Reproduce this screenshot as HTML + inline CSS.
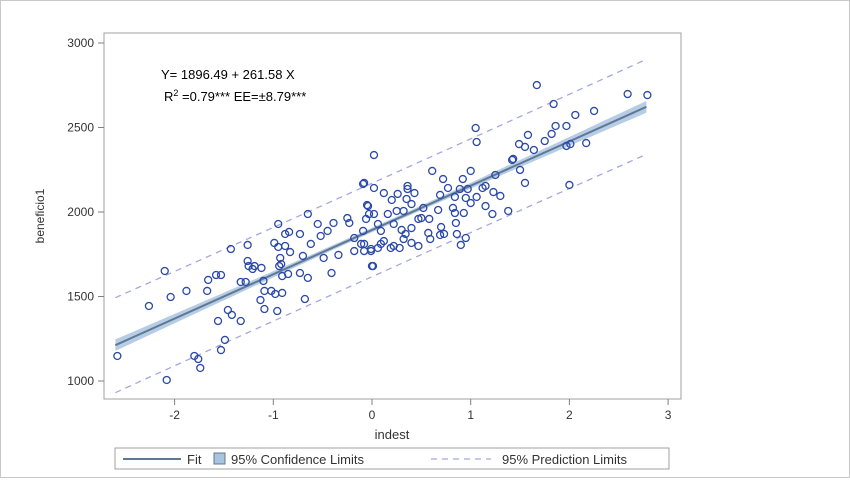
<!DOCTYPE html>
<html><head><meta charset="utf-8"><style>
body{margin:0;background:#fff;font-family:"Liberation Sans",Arial,sans-serif;}
#wrap{position:relative;width:848px;height:476px;border:1px solid #c8c8c8;}
</style></head><body>
<div id="wrap">
<svg id="chart" width="848" height="476"></svg>
</div>
<script>
const xs=[-2.58,-2.08,-2.26,-2.10,-2.04,-1.88,-1.80,-1.76,-1.74,-1.67,-1.66,-1.58,-1.53,-1.56,-1.53,-1.49,-1.46,-1.42,-1.33,-1.43,-1.33,-1.28,-1.26,-1.26,-1.25,-1.21,-1.19,-1.12,-1.10,-1.13,-1.09,-1.09,-1.02,-0.98,-0.91,-0.96,-0.99,-0.95,-0.88,-0.84,-0.95,-0.88,-0.83,-0.93,-0.92,-0.94,-0.91,-0.85,-0.73,-0.65,-0.68,-0.73,-0.65,-0.70,-0.62,-0.55,-0.52,-0.49,-0.45,-0.39,-0.34,-0.41,-0.25,-0.23,-0.18,-0.09,-0.05,0.02,0.02,0.12,0.01,-0.08,-0.01,0.06,-0.18,-0.11,
1.67,2.59,2.79,1.84,2.06,2.25,1.05,1.06,1.58,1.86,1.97,1.82,1.75,1.49,1.55,1.64,1.97,2.01,2.17,1.42,1.43,1.50,1.55,2.00,1.25,0.61,0.72,0.92,1.00,0.77,0.89,0.97,1.12,1.15,1.23,1.30,1.06,1.00,1.15,1.22,1.38,0.69,0.84,0.95,0.67,0.82,0.84,0.93,0.85,0.70,0.73,0.86,0.95,0.90,0.69,0.59,0.57,0.47,-0.08,0.20,0.26,0.36,0.36,0.35,0.43,0.40,0.52,0.50,0.58,0.47,0.32,0.25,0.16,0.22,0.30,0.34,0.32,0.40,0.40,0.22,0.28,0.19,0.12,0.09,0.06,0.02,-0.04,-0.03,-0.06,-0.09,-0.08,-0.01,0.09,0.00];
const ys=[1148,1006,1444,1651,1497,1533,1148,1130,1077,1533,1598,1627,1627,1355,1183,1243,1420,1391,1355,1781,1586,1586,1805,1710,1680,1663,1680,1669,1592,1479,1426,1533,1533,1515,1521,1414,1817,1929,1870,1882,1793,1799,1763,1728,1692,1680,1621,1633,1870,1988,1485,1639,1610,1740,1811,1929,1858,1728,1888,1935,1746,1639,1964,1935,1846,2166,2041,2142,2337,2112,1680,1769,1769,1787,1769,1811,
2751,2698,2692,2639,2574,2598,2497,2414,2456,2509,2509,2462,2420,2402,2385,2367,2391,2402,2408,2308,2314,2249,2172,2160,2219,2243,2195,2195,2243,2142,2136,2136,2142,2154,2118,2095,2089,2053,2035,1988,2006,2101,2089,2083,2012,2024,1994,1994,1935,1911,1870,1870,1846,1805,1864,1840,1876,1799,2172,2071,2107,2154,2136,2077,2112,2047,2024,1964,1959,1959,2006,2006,1988,1929,1894,1870,1840,1905,1817,1799,1787,1787,1828,1888,1929,1988,2035,1988,1959,1888,1811,1781,1811,1680];
const xTicks=[-2,-1,0,1,2,3];
const yTicks=[1000,1500,2000,2500,3000];
const xRange=[-2.6,2.78];

const NS="http://www.w3.org/2000/svg",svg=document.getElementById('chart');
const L=103,R=680,T=32,B=398;
const sx=v=>371+v*98.7, sy=v=>211-(v-2000)*84.5/500;
function mk(t,a,p){const e=document.createElementNS(NS,t);for(const k in a)e.setAttribute(k,a[k]);(p||svg).appendChild(e);return e;}
const n=xs.length;let mx=0,my=0;for(let i=0;i<n;i++){mx+=xs[i];my+=ys[i];}mx/=n;my/=n;
let sxx=0,sxy=0;for(let i=0;i<n;i++){sxx+=(xs[i]-mx)**2;sxy+=(xs[i]-mx)*(ys[i]-my);}
const b=sxy/sxx,a=my-b*mx;let sse=0;for(let i=0;i<n;i++)sse+=(ys[i]-a-b*xs[i])**2;const s=Math.sqrt(sse/(n-2));
const f=x=>a+b*x, ci=x=>0.55*1.97*s*Math.sqrt(1/n+(x-mx)**2/sxx), pi=x=>0.88*1.97*s*Math.sqrt(1+1/n+(x-mx)**2/sxx);
const grid=[];for(let k=0;k<=40;k++)grid.push(xRange[0]+(xRange[1]-xRange[0])*k/40);
const band=mk('path',{d:'M'+grid.map(x=>sx(x)+','+sy(f(x)+ci(x))).join('L')+'L'+grid.slice().reverse().map(x=>sx(x)+','+sy(f(x)-ci(x))).join('L')+'Z',fill:'#a9c4e0',opacity:'0.85'});

const up=mk('path',{d:'M'+grid.map(x=>sx(x)+','+sy(f(x)+pi(x))).join('L'),stroke:'#a4a8e0',fill:'none','stroke-width':1.3,'stroke-dasharray':'6,5'});

const lo=mk('path',{d:'M'+grid.map(x=>sx(x)+','+sy(f(x)-pi(x))).join('L'),stroke:'#a4a8e0',fill:'none','stroke-width':1.3,'stroke-dasharray':'6,5'});

const fit=mk('line',{x1:sx(xRange[0]),y1:sy(f(xRange[0])),x2:sx(xRange[1]),y2:sy(f(xRange[1])),stroke:'#5f7894','stroke-width':2});

for(let i=0;i<n;i++){const c=mk('circle',{cx:sx(xs[i]),cy:sy(ys[i]),r:3.5,fill:'none',stroke:'#2a48a8','stroke-width':1.3});
}
const frame=mk('rect',{x:L,y:T,width:R-L,height:B-T,fill:'none',stroke:'#a0a0a0'});

xTicks.forEach(v=>{const t=mk('line',{x1:sx(v),x2:sx(v),y1:B,y2:B+6,stroke:'#808080'});
const l=mk('text',{x:sx(v),y:B+20,'text-anchor':'middle','font-size':12,fill:'#333'});l.textContent=v;});
yTicks.forEach(v=>{const t=mk('line',{x1:L-6,x2:L,y1:sy(v),y2:sy(v),stroke:'#808080'});
const l=mk('text',{x:L-10,y:sy(v)+4,'text-anchor':'end','font-size':12,fill:'#333'});l.textContent=v;});
</script>
<svg width="848" height="476" style="position:absolute;left:1px;top:1px;pointer-events:none">
<text x="160" y="78" font-size="13" fill="#000">Y= 1896.49 + 261.58 X</text>
<text x="163" y="100" font-size="13" fill="#000">R<tspan font-size="9" dy="-5">2</tspan><tspan dy="5"> =0.79*** EE=±8.79***</tspan></text>
<text x="391" y="438" font-size="13" text-anchor="middle" fill="#333">indest</text>
<text x="0" y="0" font-size="12" text-anchor="middle" fill="#333" transform="translate(43,215) rotate(-90)">beneficio1</text>
<g>
<rect x="114" y="447" width="554" height="21" fill="#fff" stroke="#a0a0a0"/>
<line x1="122" y1="458" x2="180" y2="458" stroke="#5f7894" stroke-width="2"/>
<text x="186" y="463" font-size="13" fill="#333">Fit</text>
<rect x="213" y="452" width="11" height="11" fill="#a9c4e0" stroke="#5f7894"/>
<text x="230" y="463" font-size="13" fill="#333">95% Confidence Limits</text>
<line x1="430" y1="458" x2="490" y2="458" stroke="#a4a8e0" stroke-width="1.3" stroke-dasharray="6,5"/>
<text x="501" y="463" font-size="13" fill="#333">95% Prediction Limits</text>
</g>
</svg>
</body></html>
